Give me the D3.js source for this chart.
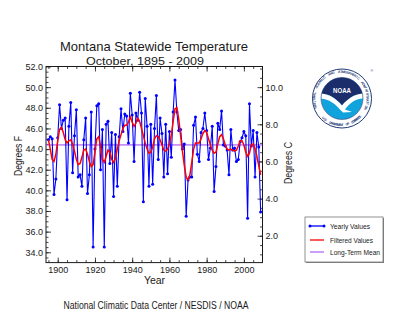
<!DOCTYPE html>
<html>
<head>
<meta charset="utf-8">
<script src="https://cdn.jsdelivr.net/npm/d3@7"></script>
<style>
  html, body { margin: 0; padding: 0; background: #ffffff; }
  svg { display: block; font-family: "Liberation Sans", Arial, Helvetica, sans-serif; }
</style>
</head>
<body>
<svg id="chart" width="400" height="329"></svg>
<script>
// ---------- data ----------
const firstYear = 1895;
const lastYear = 2009;
const yearlyValues = [
  44.9, 45.2, 45.0, 39.6, 41.1, 45.1, 48.3, 46.0, 46.8, 47.0,   // 1895-1904
  39.1, 46.2, 48.5, 41.7, 45.3, 47.8, 41.3, 41.5, 40.4, 44.9,   // 1905-1914
  47.0, 39.7, 41.5, 47.6, 34.5, 44.0, 48.2, 48.4, 42.0, 45.9,   // 1915-1924
  34.5, 46.4, 46.7, 42.6, 45.6, 39.4, 45.4, 40.4, 45.2, 47.9,   // 1925-1934
  45.7, 47.4, 47.2, 44.6, 49.4, 47.3, 42.8, 47.5, 46.8, 49.5,   // 1935-1944
  47.5, 38.9, 48.9, 46.2, 40.4, 46.4, 40.6, 46.0, 49.2, 43.0,   // 1945-1954
  47.0, 45.5, 41.3, 46.4, 41.6, 45.7, 43.2, 47.6, 50.7, 47.6,   // 1955-1964
  45.8, 45.9, 44.0, 44.5, 37.5, 41.0, 41.3, 41.3, 46.3, 47.1,   // 1965-1974
  43.5, 42.8, 45.6, 46.0, 47.5, 45.8, 43.0, 44.1, 46.2, 39.9,   // 1975-1984
  42.3, 46.5, 45.9, 47.7, 44.4, 44.3, 43.9, 41.5, 45.9, 43.9,   // 1985-1994
  44.1, 42.8, 43.0, 44.7, 45.1, 45.7, 45.3, 37.3, 48.4, 44.3,   // 1995-2004
  45.8, 41.3, 45.6, 44.2, 37.9                                  // 2005-2009
];
const filteredValues = [
  44.9, 44.0, 43.0, 42.8, 43.5, 44.8, 45.9, 46.1, 45.6, 44.9,
  44.6, 44.8, 44.9, 44.5, 43.8, 43.0, 42.5, 42.6, 43.2, 43.9,
  44.0, 43.5, 42.8, 42.3, 42.5, 43.7, 45.0, 45.2, 44.3, 43.0,
  42.7, 43.3, 43.9, 43.7, 43.0, 42.7, 43.1, 44.0, 44.8, 45.4,
  46.0, 46.3, 46.3, 46.6, 47.1, 46.6, 46.2, 46.5, 47.0, 46.7,
  46.0, 45.3, 44.6, 44.0, 43.6, 43.7, 44.2, 45.0, 45.3, 45.2,
  44.9, 44.4, 43.9, 43.8, 44.0, 44.5, 45.3, 46.7, 47.9, 48.0,
  46.9, 45.3, 43.8, 42.4, 41.3, 41.0, 41.5, 42.7, 44.0, 44.6,
  44.6, 44.6, 45.0, 45.5, 45.8, 45.6, 45.0, 44.4, 43.9, 43.6,
  43.7, 44.5, 45.2, 45.4, 45.0, 44.4, 44.0, 43.9, 44.0, 43.9,
  43.8, 43.9, 44.3, 44.8, 44.8, 44.4, 43.7, 43.3, 43.6, 44.4,
  44.5, 44.0, 43.3, 42.4, 41.5
];
const longTermMean = 44.4;
const yTicksF = ["34.0", "36.0", "38.0", "40.0", "42.0", "44.0", "46.0", "48.0", "50.0", "52.0"];
const yTicksC = ["2.0", "4.0", "6.0", "8.0", "10.0"];
const xTicks = [1900, 1920, 1940, 1960, 1980, 2000];
const legendLabels = ["Yearly Values", "Filtered Values", "Long-Term Mean"];
const titleText = "Montana Statewide Temperature";
const subtitleText = "October, 1895 - 2009";
const footerText = "National Climatic Data Center / NESDIS / NOAA";
const logoTopWords = ["NATIONAL", "OCEANIC", "AND", "ATMOSPHERIC", "ADMINISTRATION"];
const logoBottomWords = ["U.S.", "DEPARTMENT", "OF", "COMMERCE"];

// ---------- layout ----------
const svg = d3.select("#chart");
const defs = svg.append("defs");
const L = 46, R = 262.5, T = 66.5, B = 262.6;
const years = d3.range(firstYear, lastYear + 1);
const rows = years.map((yr, i) => ({ year: yr, v: yearlyValues[i], f: filteredValues[i] }));

const x = d3.scaleLinear().domain([1893.7, 2010]).range([L, R]);
const y = d3.scaleLinear().domain([33, 52]).range([B, T]);
const yC = d3.scaleLinear().domain([(33 - 32) * 5 / 9, (52 - 32) * 5 / 9]).range([B, T]);

const ink = "#1a1a1a";

// titles
svg.append("text").attr("x", 154).attr("y", 51).attr("text-anchor", "middle")
  .attr("font-size", 13).attr("fill", ink).attr("textLength", 188).attr("lengthAdjust", "spacingAndGlyphs")
  .text(titleText);
svg.append("text").attr("x", 145).attr("y", 64.5).attr("text-anchor", "middle")
  .attr("font-size", 10.5).attr("fill", ink).attr("textLength", 118).attr("lengthAdjust", "spacingAndGlyphs")
  .text(subtitleText);

// plot clip
defs.append("clipPath").attr("id", "plotclip").append("rect")
  .attr("x", L).attr("y", T).attr("width", R - L).attr("height", B - T);

const g = svg.append("g");

// Axes (ticks pointing inward)
const fmt1 = d3.format(".1f");
const yLeft = d3.axisLeft(y).tickValues(yTicksF.map(Number)).tickSize(-5).tickPadding(3).tickFormat(fmt1);
const yLeftMinor = d3.axisLeft(y).tickValues(d3.range(33.5, 52, 0.5)).tickSize(-2.5).tickFormat("");
const yRight = d3.axisRight(yC).tickValues(yTicksC.map(Number)).tickSize(-5).tickPadding(3).tickFormat(fmt1);
const yRightMinor = d3.axisRight(yC).tickValues(d3.range(1, 11.1, 0.5)).tickSize(-2.5).tickFormat("");
const xBottom = d3.axisBottom(x).tickValues(xTicks).tickSize(-5).tickPadding(4).tickFormat(d3.format("d"));
const xBottomMinor = d3.axisBottom(x).tickValues(d3.range(1895, 2010, 5)).tickSize(-2.5).tickFormat("");
const xTop = d3.axisTop(x).tickValues(xTicks).tickSize(-5).tickFormat("");
const xTopMinor = d3.axisTop(x).tickValues(d3.range(1895, 2010, 5)).tickSize(-2.5).tickFormat("");

function styleAxis(sel, fs) {
  sel.select(".domain").remove();
  sel.selectAll("line").attr("stroke", ink).attr("stroke-width", 0.8);
  sel.selectAll("text").attr("fill", ink).attr("font-size", fs)
    .attr("font-family", "'Liberation Sans', Arial, sans-serif");
}
g.append("g").attr("transform", `translate(${L},0)`).call(yLeftMinor).call(styleAxis, 9);
g.append("g").attr("transform", `translate(${L},0)`).call(yLeft).call(styleAxis, 9);
g.append("g").attr("transform", `translate(${R},0)`).call(yRightMinor).call(styleAxis, 9);
g.append("g").attr("transform", `translate(${R},0)`).call(yRight).call(styleAxis, 9);
g.append("g").attr("transform", `translate(0,${B})`).call(xBottomMinor).call(styleAxis, 9);
g.append("g").attr("transform", `translate(0,${B})`).call(xBottom).call(styleAxis, 9);
g.append("g").attr("transform", `translate(0,${T})`).call(xTopMinor).call(styleAxis, 9);
g.append("g").attr("transform", `translate(0,${T})`).call(xTop).call(styleAxis, 9);

// frame
g.append("rect").attr("x", L).attr("y", T).attr("width", R - L).attr("height", B - T)
  .attr("fill", "none").attr("stroke", ink).attr("stroke-width", 1);

// axis titles
svg.append("text").attr("transform", `translate(22,156) rotate(-90)`).attr("text-anchor", "middle")
  .attr("font-size", 10.5).attr("fill", ink).attr("textLength", 40).attr("lengthAdjust", "spacingAndGlyphs")
  .text("Degrees F");
svg.append("text").attr("transform", `translate(292,163) rotate(-90)`).attr("text-anchor", "middle")
  .attr("font-size", 10.5).attr("fill", ink).attr("textLength", 42).attr("lengthAdjust", "spacingAndGlyphs")
  .text("Degrees C");
svg.append("text").attr("x", 154.5).attr("y", 284).attr("text-anchor", "middle")
  .attr("font-size", 10.5).attr("fill", ink).text("Year");

// data layers
const plot = svg.append("g").attr("clip-path", "url(#plotclip)");
plot.append("line").attr("x1", L).attr("x2", R).attr("y1", y(longTermMean)).attr("y2", y(longTermMean))
  .attr("stroke", "#9b3df5").attr("stroke-width", 1);
plot.append("path").datum(rows)
  .attr("d", d3.line().x(d => x(d.year)).y(d => y(d.v)))
  .attr("fill", "none").attr("stroke", "#0000ff").attr("stroke-width", 1.1);
plot.selectAll("circle.pt").data(rows).join("circle").attr("class", "pt")
  .attr("cx", d => x(d.year)).attr("cy", d => y(d.v)).attr("r", 1.5).attr("fill", "#0000ff");
plot.append("path").datum(rows)
  .attr("d", d3.line().x(d => x(d.year)).y(d => y(d.f)))
  .attr("fill", "none").attr("stroke", "#ff0000").attr("stroke-width", 1.5);

// footer
svg.append("text").attr("x", 156).attr("y", 308.5).attr("text-anchor", "middle")
  .attr("font-size", 10).attr("fill", ink).attr("textLength", 185).attr("lengthAdjust", "spacingAndGlyphs")
  .text(footerText);

// legend
const lg = svg.append("g");
lg.append("rect").attr("x", 306).attr("y", 218).attr("width", 78).attr("height", 45).attr("fill", "#808080");
lg.append("rect").attr("x", 305).attr("y", 217).attr("width", 78).attr("height", 45)
  .attr("fill", "#fff").attr("stroke", "#777").attr("stroke-width", 0.8);
const legendColors = ["#0000ff", "#ff0000", "#9b3df5"];
const legendY = [226, 240, 252];
const legendTextLen = [40, 43, 50];
legendLabels.forEach((lab, i) => {
  lg.append("line").attr("x1", 310).attr("x2", 324).attr("y1", legendY[i]).attr("y2", legendY[i])
    .attr("stroke", legendColors[i]).attr("stroke-width", i === 2 ? 1 : 1.3);
  if (i === 0) {
    [310, 324].forEach(cx => lg.append("circle").attr("cx", cx).attr("cy", legendY[i]).attr("r", 1.5).attr("fill", "#0000ff"));
  }
  lg.append("text").attr("x", 330).attr("y", legendY[i] + 2.5).attr("font-size", 7).attr("fill", ink)
    .attr("textLength", legendTextLen[i]).attr("lengthAdjust", "spacingAndGlyphs").text(lab);
});

// NOAA logo
const cx0 = 342, cy0 = 98.5;
const logo = svg.append("g").attr("transform", `translate(${cx0},${cy0})`);
const Ro = 29.5, Ri = 21;
logo.append("circle").attr("r", Ro).attr("fill", "#fff").attr("stroke", "#1e3a78").attr("stroke-width", 1);

// ring text: one text per word, each glyph placed and rotated along the ring
// (angles clockwise from top, degrees)
function ringWords(words, a0, a1, rad, isTop, gap) {
  const units = words.reduce((s, w) => s + w.length, 0) + gap * (words.length - 1);
  const per = (a1 - a0) / units;
  let pos = 0;
  words.forEach(w => {
    const xs = [], ys = [], rs = [];
    for (let i = 0; i < w.length; i++) {
      const a = a0 + (pos + i + 0.5) * per;
      const rr = a * Math.PI / 180;
      xs.push((rad * Math.sin(rr)).toFixed(2));
      ys.push((-rad * Math.cos(rr)).toFixed(2));
      rs.push((isTop ? a : a - 180).toFixed(1));
    }
    pos += w.length + gap;
    logo.append("text").attr("font-size", 3.4).attr("fill", "#1e3a78").attr("font-weight", "bold")
      .attr("text-anchor", "middle")
      .attr("x", xs.join(" ")).attr("y", ys.join(" ")).attr("rotate", rs.join(" "))
      .text(w);
  });
}
ringWords(logoTopWords, -114, 112, 25.6, true, 1.8);
ringWords(logoBottomWords, 226, 134, 27.4, false, 2.2);

defs.append("clipPath").attr("id", "logoclip").append("circle").attr("cx", 0).attr("cy", 0).attr("r", Ri);
const inner = logo.append("g").attr("clip-path", "url(#logoclip)");
inner.append("circle").attr("r", Ri).attr("fill", "#11a3dc");
inner.append("path").attr("fill", "#1b2d6b")
  .attr("d", "M -23,-23 L 23,-23 L 23,-5 C 13,-5 6,0 0,7 C -6,0 -13,-5 -23,-5 Z");
inner.append("path").attr("fill", "#ffffff")
  .attr("d", "M -23,-5 C -13,-5 -6,0 0,7 C 6,0 13,-5 23,-5 L 23,0 C 14,-1 7,5 3,11 L 10,13.5 L 1,14 L -2,11 C -7,5 -14,0 -23,0 Z");
logo.append("circle").attr("r", Ri).attr("fill", "none").attr("stroke", "#1e3a78").attr("stroke-width", 0.6);
logo.append("text").attr("x", 0).attr("y", -5.5).attr("text-anchor", "middle").attr("font-size", 8)
  .attr("font-weight", "bold").attr("fill", "#fff").attr("textLength", 18).attr("lengthAdjust", "spacingAndGlyphs")
  .text("NOAA");
logo.append("text").attr("x", 28.5).attr("y", -27).attr("font-size", 3.5).attr("fill", "#1e3a78").text("®");
</script>
</body>
</html>
